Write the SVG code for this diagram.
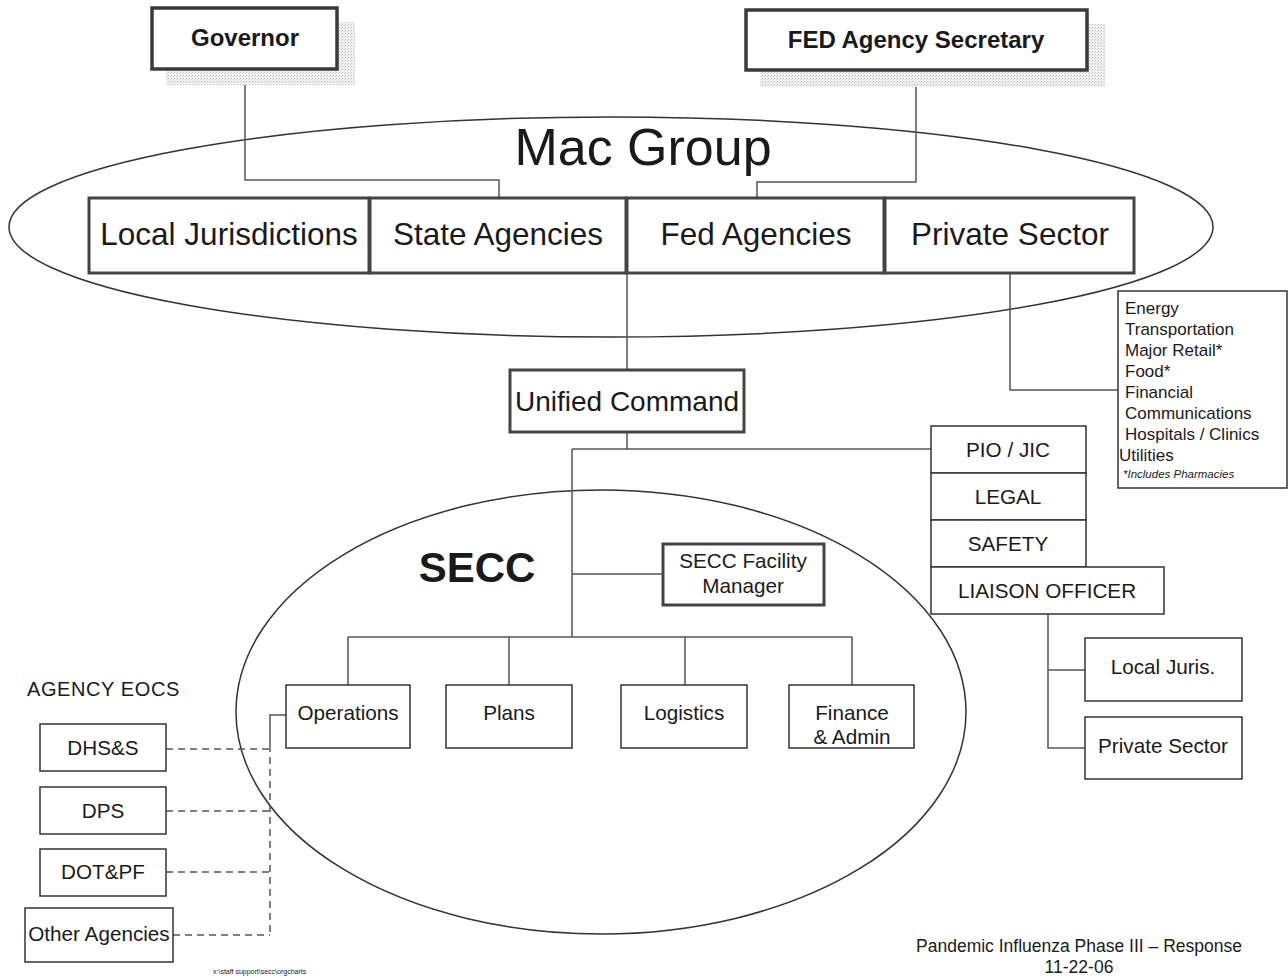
<svg xmlns="http://www.w3.org/2000/svg" width="1288" height="978" viewBox="0 0 1288 978">
<defs>
<pattern id="stip" width="3" height="3" patternUnits="userSpaceOnUse">
<rect width="3" height="3" fill="#f0f0f0"/>
<rect width="1" height="1" fill="#c4c4c4"/>
<rect x="2" y="1" width="1" height="1" fill="#d4d4d4"/>
</pattern>
</defs>
<style>
text{font-family:"Liberation Sans",Arial,sans-serif;fill:#1a1a1a}
.bx{fill:#fff;stroke:#333;stroke-width:1.5}
.thk{fill:#fff;stroke:#3a3a3a;stroke-width:3.5}
.dbl{fill:#fff;stroke:#444;stroke-width:3}
.ln{fill:none;stroke:#555;stroke-width:1.5}
.ds{fill:none;stroke:#555;stroke-width:1.5;stroke-dasharray:7 5}
.ell{fill:none;stroke:#333;stroke-width:1.5}
.shadow{fill:url(#stip)}
.t{font-size:20.7px}
.h{font-size:31.5px}
</style>
<rect width="1288" height="978" fill="#fff"/>

<g id="ellipses">
<ellipse class="ell" cx="611" cy="227" rx="602" ry="110"/>
<ellipse class="ell" cx="601" cy="712" rx="365" ry="222"/>
</g>

<g id="connectors">
<path class="ln" d="M245 69 V180 H499 V197"/>
<path class="ln" d="M916 70 V182 H757 V197"/>
<path class="ln" d="M627 273 V369"/>
<path class="ln" d="M1010 273 V390 H1118"/>
<path class="ln" d="M627 432 V449"/>
<path class="ln" d="M572 449 H931"/>
<path class="ln" d="M572 449 V637"/>
<path class="ln" d="M572 574 H662"/>
<path class="ln" d="M348 637 H852"/>
<path class="ln" d="M348 637 V685 M509 637 V685 M685 637 V685 M852 637 V685"/>
<path class="ln" d="M1048 614 V748 H1085 M1048 670 H1085"/>
<path class="ln" d="M286 715 H270 V745"/>
<path class="ds" d="M270 745 V935"/>
<path class="ds" d="M166 749 H270 M166 811 H270 M166 872 H270 M173 935 H270"/>
</g>

<g id="governor">
<rect class="shadow" x="166" y="22" width="189" height="63"/>
<rect class="thk" x="152" y="8" width="185" height="61"/>
<text x="245" y="46" font-size="24" font-weight="bold" text-anchor="middle">Governor</text>
</g>

<g id="fed-secretary">
<rect class="shadow" x="760" y="24" width="345" height="63"/>
<rect class="thk" x="746" y="10" width="341" height="60"/>
<text x="916" y="48" font-size="24" font-weight="bold" text-anchor="middle">FED Agency Secretary</text>
</g>

<g id="mac-group-label">
<text x="643" y="165" font-size="52" text-anchor="middle">Mac Group</text>
</g>

<g id="local-jurisdictions">
<rect class="dbl" x="89" y="198" width="280" height="75"/>
<text class="h" x="229" y="245" text-anchor="middle">Local Jurisdictions</text>
</g>
<g id="state-agencies">
<rect class="dbl" x="370" y="198" width="256" height="75"/>
<text class="h" x="498" y="245" text-anchor="middle">State Agencies</text>
</g>
<g id="fed-agencies">
<rect class="dbl" x="627" y="198" width="257" height="75"/>
<text class="h" x="756" y="245" text-anchor="middle">Fed Agencies</text>
</g>
<g id="private-sector-mac">
<rect class="dbl" x="885" y="198" width="249" height="75"/>
<text class="h" x="1010" y="245" text-anchor="middle">Private Sector</text>
</g>

<g id="private-sector-list">
<rect class="bx" x="1118" y="291" width="169" height="197"/>
<g font-size="17">
<text x="1125" y="314">Energy</text>
<text x="1125" y="335">Transportation</text>
<text x="1125" y="356">Major Retail*</text>
<text x="1125" y="377">Food*</text>
<text x="1125" y="398">Financial</text>
<text x="1125" y="419">Communications</text>
<text x="1125" y="440">Hospitals / Clinics</text>
<text x="1119" y="461">Utilities</text>
</g>
<text x="1123" y="478" font-size="11.5" font-style="italic">*Includes Pharmacies</text>
</g>

<g id="unified-command">
<rect class="dbl" x="510" y="370" width="234" height="62"/>
<text x="627" y="411" font-size="28" text-anchor="middle">Unified Command</text>
</g>

<g id="pio-jic">
<rect class="bx" x="931" y="426" width="155" height="47"/>
<text class="t" x="1008" y="457" text-anchor="middle">PIO / JIC</text>
</g>
<g id="legal">
<rect class="bx" x="931" y="473" width="155" height="47"/>
<text class="t" x="1008" y="504" text-anchor="middle">LEGAL</text>
</g>
<g id="safety">
<rect class="bx" x="931" y="520" width="155" height="47"/>
<text class="t" x="1008" y="551" text-anchor="middle">SAFETY</text>
</g>
<g id="liaison-officer">
<rect class="bx" x="931" y="567" width="233" height="47"/>
<text class="t" x="1047" y="598" text-anchor="middle">LIAISON OFFICER</text>
</g>

<g id="local-juris">
<rect class="bx" x="1085" y="638" width="157" height="63"/>
<text class="t" x="1163" y="674" text-anchor="middle">Local Juris.</text>
</g>
<g id="private-sector-liaison">
<rect class="bx" x="1085" y="717" width="157" height="62"/>
<text class="t" x="1163" y="753" text-anchor="middle">Private Sector</text>
</g>

<g id="secc-label">
<text x="477" y="582" font-size="42" font-weight="bold" text-anchor="middle">SECC</text>
</g>

<g id="secc-facility-manager">
<rect class="dbl" x="663" y="544" width="161" height="61"/>
<text class="t" x="743" y="568" text-anchor="middle">SECC Facility</text>
<text class="t" x="743" y="593" text-anchor="middle">Manager</text>
</g>

<g id="operations">
<rect class="bx" x="286" y="685" width="124" height="63"/>
<text class="t" x="348" y="720" text-anchor="middle">Operations</text>
</g>
<g id="plans">
<rect class="bx" x="446" y="685" width="126" height="63"/>
<text class="t" x="509" y="720" text-anchor="middle">Plans</text>
</g>
<g id="logistics">
<rect class="bx" x="621" y="685" width="126" height="63"/>
<text class="t" x="684" y="720" text-anchor="middle">Logistics</text>
</g>
<g id="finance-admin">
<rect class="bx" x="789" y="685" width="125" height="63"/>
<text class="t" x="852" y="720" text-anchor="middle">Finance</text>
<text class="t" x="852" y="744" text-anchor="middle">&amp; Admin</text>
</g>

<g id="agency-eocs-label">
<text x="27" y="696" font-size="20" letter-spacing="0.6">AGENCY EOCS</text>
</g>
<g id="dhss">
<rect class="bx" x="40" y="724" width="126" height="47"/>
<text class="t" x="103" y="755" text-anchor="middle">DHS&amp;S</text>
</g>
<g id="dps">
<rect class="bx" x="40" y="787" width="126" height="47"/>
<text class="t" x="103" y="818" text-anchor="middle">DPS</text>
</g>
<g id="dotpf">
<rect class="bx" x="40" y="849" width="126" height="47"/>
<text class="t" x="103" y="879" text-anchor="middle">DOT&amp;PF</text>
</g>
<g id="other-agencies">
<rect class="bx" x="25" y="908" width="148" height="54"/>
<text class="t" x="99" y="941" text-anchor="middle">Other Agencies</text>
</g>

<g id="footer">
<text x="1079" y="952" font-size="17.5" text-anchor="middle">Pandemic Influenza Phase III – Response</text>
<text x="1079" y="973" font-size="17.5" text-anchor="middle">11-22-06</text>
<text x="213" y="974" font-size="7" fill="#555">x:\staff  support\secc\orgcharts</text>
</g>
</svg>
